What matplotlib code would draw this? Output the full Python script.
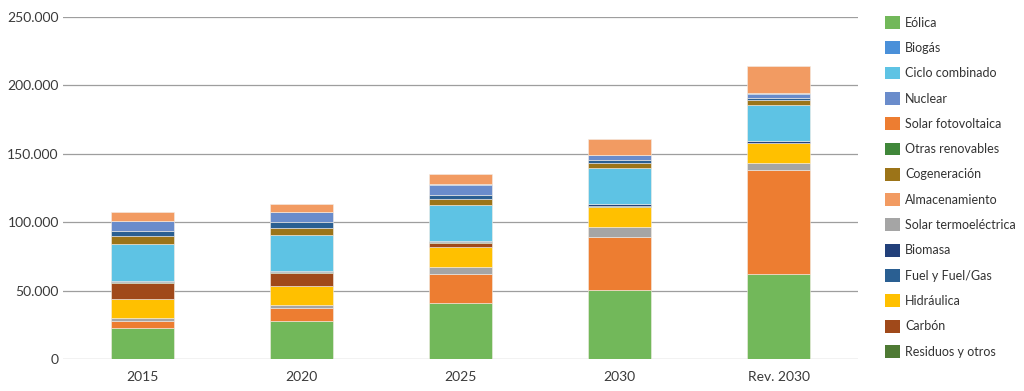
import matplotlib
matplotlib.use("Agg")
from matplotlib import pyplot as plt
from matplotlib.patches import Patch
from matplotlib.ticker import FuncFormatter
import numpy as np

plt.rcParams['font.family'] = ['Lato', 'DejaVu Sans']

years = ["2015", "2020", "2025", "2030", "Rev. 2030"]

# MW installed per technology
eolica = [22925, 28033, 40633, 50333, 62054]
solar_fv = [4854, 9071, 21713, 39181, 76387]
solar_termo = [2300, 2303, 4803, 7303, 4800]
hidraulica = [14104, 14109, 14359, 14609, 14511]
carbon = [11311, 9500, 3500, 0, 0]
residuos = [893, 610, 470, 341, 470]
biomasa = [677, 613, 815, 1408, 1409]
ciclo_combinado = [26612, 26612, 26612, 26612, 26250]
cogeneracion = [6143, 5239, 4373, 3670, 3784]
fuel = [3708, 3708, 2781, 2136, 1080]
nuclear = [7399, 7399, 7399, 3181, 3181]
biogas = [223, 211, 241, 241, 700]
otras_renovables = [0, 0, 40, 80, 80]
almacenamiento = [6024, 6024, 7399, 12024, 19500]

# stacking order bottom -> top
stack = [
    ("Eólica", eolica, "#72B85A"),
    ("Solar fotovoltaica", solar_fv, "#ED7D31"),
    ("Solar termoeléctrica", solar_termo, "#A5A5A5"),
    ("Hidráulica", hidraulica, "#FFC000"),
    ("Carbón", carbon, "#A0491A"),
    ("Residuos y otros", residuos, "#4E7A34"),
    ("Biomasa", biomasa, "#22407A"),
    ("Ciclo combinado", ciclo_combinado, "#5EC3E4"),
    ("Cogeneración", cogeneracion, "#9C7418"),
    ("Fuel y Fuel/Gas", fuel, "#2A5F92"),
    ("Nuclear", nuclear, "#6A8CCB"),
    ("Biogás", biogas, "#4A90D9"),
    ("Otras renovables", otras_renovables, "#40873A"),
    ("Almacenamiento", almacenamiento, "#F29B62"),
]

legend_order = ["Eólica", "Biogás", "Ciclo combinado", "Nuclear", "Solar fotovoltaica",
                "Otras renovables", "Cogeneración", "Almacenamiento", "Solar termoeléctrica",
                "Biomasa", "Fuel y Fuel/Gas", "Hidráulica", "Carbón", "Residuos y otros"]

fig = plt.figure(figsize=(10.24, 3.91), dpi=100)
ax = fig.add_axes([0.0615, 0.082, 0.7765, 0.8745])

x = np.arange(len(years))
bottom = np.zeros(len(years))
colors = {}
for name, vals, color in stack:
    vals = np.array(vals, dtype=float)
    ax.bar(x, vals, bottom=bottom, width=0.4, color=color, edgecolor="#F3EDE6",
           linewidth=0.4, zorder=3)
    bottom += vals
    colors[name] = color

ax.set_xlim(-0.5, 4.5)
ax.set_ylim(0, 250000)
ax.set_yticks(np.arange(0, 250001, 50000))
ax.yaxis.set_major_formatter(FuncFormatter(lambda v, p: f"{int(v):,}".replace(",", ".")))
ax.set_xticks(x)
ax.set_xticklabels(years)
ax.tick_params(axis="both", length=0, labelsize=10, colors="#3A3A3A")
ax.tick_params(axis="x", pad=9)
ax.tick_params(axis="y", pad=3)
ax.grid(axis="y", color="#9E9E9E", linewidth=0.9, zorder=0)
for s in ax.spines.values():
    s.set_visible(False)

handles = [Patch(facecolor=colors[n], edgecolor="none", label=n) for n in legend_order]
fig.legend(handles=handles, loc="upper left", bbox_to_anchor=(0.859, 0.972),
           frameon=False, fontsize=9.0, handlelength=1.2, handleheight=1.2,
           handletextpad=0.45, labelspacing=1.0, borderaxespad=0, labelcolor="#333333")

fig.savefig("out.png", dpi=100)
